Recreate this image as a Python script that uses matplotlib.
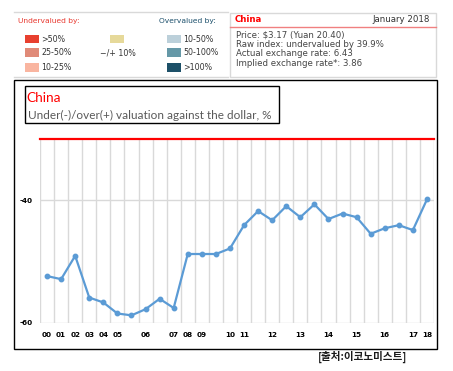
import matplotlib
matplotlib.use("Agg")
import matplotlib.pyplot as plt
from matplotlib.patches import Rectangle
from matplotlib.lines import Line2D

# ---- data ----
values = [-52.4, -52.9, -49.1, -55.9, -56.7, -58.5, -58.8, -57.8, -56.1, -57.6,
          -48.8, -48.8, -48.8, -47.9, -44.1, -41.8, -43.3, -41.0, -42.8, -40.7,
          -43.1, -42.2, -42.8, -45.5, -44.6, -44.1, -44.9, -39.9]
tick_pos = [0, 1, 2, 3, 4, 5, 7, 9, 10, 11, 13, 14, 16, 18, 20, 22, 24, 26, 27]
tick_labels = ["00", "01", "02", "03", "04", "05", "06", "07", "08", "09",
               "10", "11", "12", "13", "14", "15", "16", "17", "18"]
y_ticks = [-40, -60]

under_labels = [">50%", "25-50%", "10-25%"]
under_colors = ["#E8402F", "#E08A78", "#F9B5A0"]
over_labels = ["10-50%", "50-100%", ">100%"]
over_colors = ["#BCD0DA", "#6598A7", "#1D5068"]
neutral_label = "\u2212/+ 10%"
neutral_color = "#E6D99A"

info_lines = ["Price: $3.17 (Yuan 20.40)",
              "Raw index: undervalued by 39.9%",
              "Actual exchange rate: 6.43",
              "Implied exchange rate*: 3.86"]

W, H = 453, 371
fig = plt.figure(figsize=(W / 100, H / 100), dpi=100)

def fx(x):
    return x / W

def fy(y):
    return 1 - y / H

def rect(x0, y0, x1, y1, **kw):
    fig.patches.append(Rectangle((fx(x0), fy(y1)), fx(x1) - fx(x0), fy(y0) - fy(y1),
                                 transform=fig.transFigure, figure=fig, **kw))

def hline(x0, x1, y, **kw):
    fig.add_artist(Line2D([fx(x0), fx(x1)], [fy(y), fy(y)], transform=fig.transFigure, **kw))

# ---- top-left legend panel ----
hline(14, 228, 12, color="#D9D9D9", lw=1)
hline(14, 228, 77, color="#D9D9D9", lw=1)
fig.text(fx(17.5), fy(21), "Undervalued by:", color="#E8382F", fontsize=5.4, va="center",
         family="DejaVu Sans")
fig.text(fx(159), fy(21), "Overvalued by:", color="#1B4F6B", fontsize=5.4, va="center",
         family="DejaVu Sans")
rows_y = [39, 52.8, 67.2]
for lab, col, yy in zip(under_labels, under_colors, rows_y):
    rect(24.7, yy - 4.4, 39, yy + 4.4, facecolor=col, edgecolor="none")
    fig.text(fx(41.5), fy(yy), lab, color="#333333", fontsize=5.7, va="center", family="DejaVu Sans")
for lab, col, yy in zip(over_labels, over_colors, rows_y):
    rect(166.7, yy - 4.4, 180.7, yy + 4.4, facecolor=col, edgecolor="none")
    fig.text(fx(183), fy(yy), lab, color="#333333", fontsize=5.7, va="center", family="DejaVu Sans")
rect(110, 34.6, 124, 43.4, facecolor=neutral_color, edgecolor="none")
fig.text(fx(100), fy(52.5), neutral_label, color="#333333", fontsize=5.7, va="center",
         family="DejaVu Sans")

# ---- top-right info panel ----
rect(230, 13.3, 436, 76.7, facecolor="none", edgecolor="#D9D9D9", lw=1)
hline(230, 436, 27.3, color="#F08080", lw=1)
fig.text(fx(235), fy(20), "China", color="#FF0000", fontsize=6.2, fontweight="bold",
         va="center", family="DejaVu Sans")
fig.text(fx(430), fy(20), "January 2018", color="#333333", fontsize=6.2, ha="right",
         va="center", family="DejaVu Sans")
for i, line in enumerate(info_lines):
    fig.text(fx(236), fy(35.3 + i * 9.3), line, color="#444444", fontsize=6.2, va="center",
             family="DejaVu Sans")

# ---- outer chart box ----
rect(14, 80, 437, 349.3, facecolor="none", edgecolor="black", lw=1)

# ---- axes ----
ax = fig.add_axes([fx(40), fy(322.7), fx(434) - fx(40), fy(138.7) - fy(322.7)])
x = list(range(len(values)))
ax.set_xlim(-0.5, len(values) - 0.5)
ax.set_ylim(-60, -30)
for gx in range(len(values) + 1):
    ax.axvline(gx - 0.5, color="#D9D9D9", lw=1, zorder=1)
ax.axhline(-40, color="#D9D9D9", lw=1, zorder=1)
ax.axhline(-60, color="#D9D9D9", lw=1, zorder=1)
ax.axhline(-30, color="#FF0000", lw=1.6, zorder=3, clip_on=False)
ax.plot(x, values, color="#5B9BD5", lw=1.6, marker="o", markersize=3.2, zorder=4)
for s in ax.spines.values():
    s.set_visible(False)
ax.set_xticks(tick_pos)
ax.set_xticklabels(tick_labels)
ax.set_yticks(y_ticks)
ax.set_yticklabels([str(v) for v in y_ticks])
ax.tick_params(length=0, labelsize=5.2, colors="#000000")
ax.tick_params(axis="x", pad=7)
ax.tick_params(axis="y", pad=5)
for lab in ax.get_xticklabels() + ax.get_yticklabels():
    lab.set_fontweight("heavy")

# ---- title box ----
rect(24.7, 86, 279.3, 122.7, facecolor="white", edgecolor="black", lw=1, zorder=5)
fig.text(fx(26.5), fy(98.5), "China", color="#FF0000", fontsize=9.8, va="center", family="Lato",
         zorder=6)
fig.text(fx(27.5), fy(115.5), "Under(-)/over(+) valuation against the dollar, %", color="#595959",
         fontsize=8.5, va="center", family="Lato", zorder=6)

# ---- source ----
fig.text(fx(318), fy(357), "[출처:이코노미스트]", color="#1a1a1a", fontsize=7.6,
         fontweight="bold", va="center", family=["Noto Sans CJK KR", "DejaVu Sans"])

fig.savefig("out.png", dpi=100)
